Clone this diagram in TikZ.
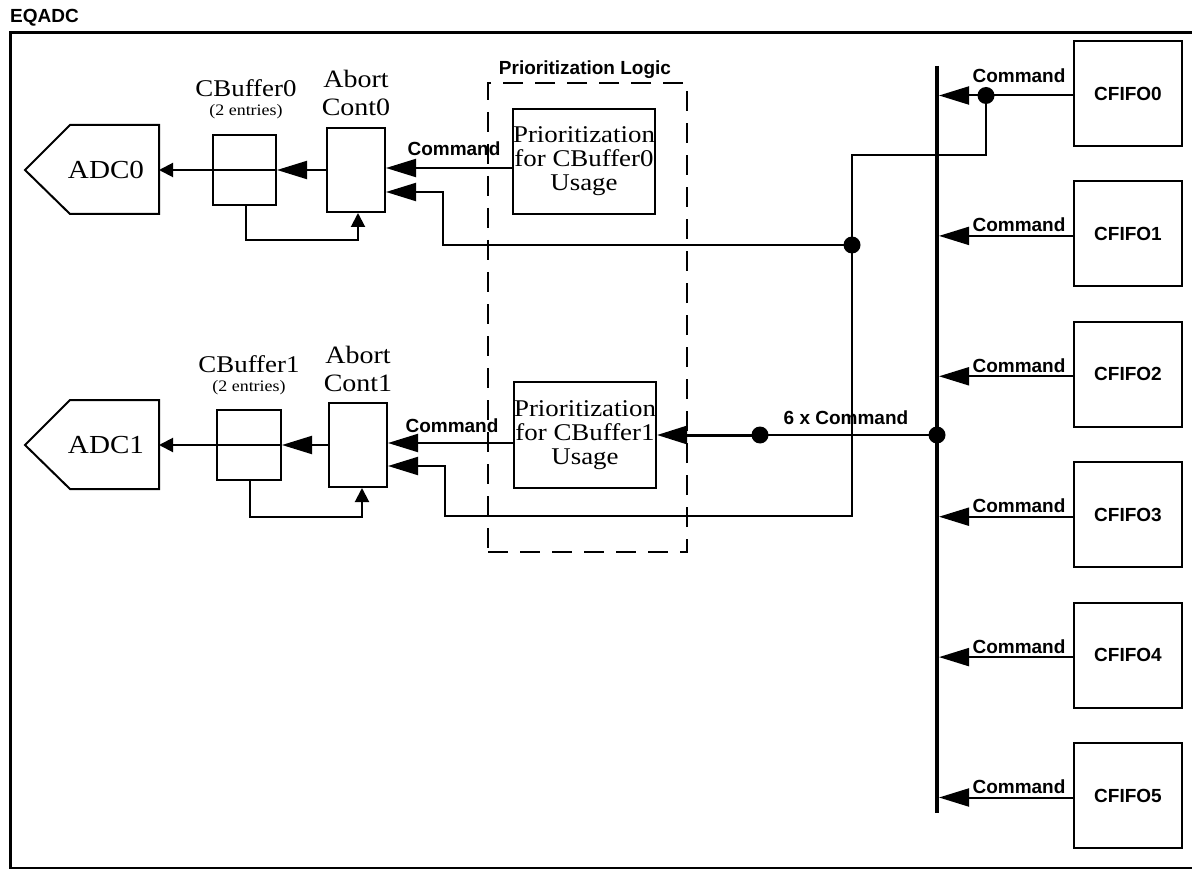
\documentclass[tikz,border=0pt]{standalone}
\usepackage{fontspec}
\setmainfont{Liberation Serif}[FakeStretch=1.12]
\newfontfamily\hv{Liberation Sans}
\usetikzlibrary{arrows.meta,calc}
\begin{document}
\begin{tikzpicture}[x=1pt,y=-1pt,
  box/.style={draw,line width=2pt,inner sep=0pt},
  ln/.style={line width=2pt},
  big/.style={-{Triangle[length=30pt,width=18pt]}},
  sml/.style={-{Triangle[length=14pt,width=14pt]}},
  lab/.style={font=\hv\bfseries\fontsize{19}{21}\selectfont,inner sep=0pt},
  ser/.style={font=\fontsize{24}{24}\selectfont,inner sep=0pt,align=center},
  big serif/.style={font=\fontsize{25}{27}\selectfont,inner sep=0pt},
  small serif/.style={font=\fontsize{16}{18}\selectfont,inner sep=0pt},
  dot/.style={circle,fill,inner sep=0pt,minimum size=17pt},
  fifo/.style={box,minimum width=108pt,minimum height=105pt,lab}
]
\useasboundingbox (0,0) rectangle (1192,869);
\fill[white] (0,0) rectangle (1192,869);

% title and frame
\node[lab,anchor=base west] (title) at (10,23) {EQADC};
\node[draw,line width=3pt,inner sep=0pt,minimum width=1190pt,minimum height=836pt,anchor=north west] (frame) at (9,31) {};

% ADC shapes
\draw[ln] (25,170) -- (70,125) -- (159,125) -- (159,214) -- (70,214) -- cycle;
\coordinate (adc0e) at (159,170);
\node[font=\fontsize{26}{28}\selectfont,inner sep=0pt] (adc0) at (106,170) {ADC0};
\draw[ln] (25,445) -- (70,400) -- (159,400) -- (159,489) -- (70,489) -- cycle;
\coordinate (adc1e) at (159,445);
\node[font=\fontsize{26}{28}\selectfont,inner sep=0pt] (adc1) at (106,445) {ADC1};

% command buffers
\node[box,minimum width=63pt,minimum height=70pt] (cb0) at (244.5,170) {};
\node[box,minimum width=64pt,minimum height=70pt] (cb1) at (249,445) {};
\node[font=\fontsize{24}{26}\selectfont,inner sep=0pt,anchor=base] (cb0t) at (246,97) {CBuffer0};
\node[small serif,anchor=base] (cb0s) at (246,116) {(2 entries)};
\node[font=\fontsize{24}{26}\selectfont,inner sep=0pt,anchor=base] (cb1t) at (249,372) {CBuffer1};
\node[small serif,anchor=base] (cb1s) at (249,391) {(2 entries)};

% abort controls
\node[box,minimum width=58pt,minimum height=84pt] (ab0) at (356,170) {};
\node[box,minimum width=58pt,minimum height=84pt] (ab1) at (358,445) {};
\node[big serif,anchor=base] (ab0a) at (356,88) {Abort};
\node[big serif,anchor=base] (ab0b) at (356,116) {Cont0};
\node[big serif,anchor=base] (ab1a) at (358,363) {Abort};
\node[big serif,anchor=base] (ab1b) at (358,391) {Cont1};

% prioritization logic
\node[draw,line width=2pt,dash pattern=on 20pt off 12pt,minimum width=199pt,minimum height=469pt,inner sep=0pt] (plog) at (587.5,317.5) {};
\node[lab,anchor=base] (plogt) at (585,75) {Prioritization Logic};
\node[box,ser,minimum width=142pt,minimum height=105pt] (pr0) at (584,161.5) {Prioritization\\for CBuffer0\\Usage};
\node[box,ser,minimum width=142pt,minimum height=106pt] (pr1) at (585,435) {Prioritization\\for CBuffer1\\Usage};

% CFIFOs
\foreach \i in {0,...,5} {
  \node[fifo] (cf\i) at (1128,93.5+140.4*\i) {CFIFO\i};
}

% bus
\coordinate (bust) at (937,66);
\coordinate (busb) at (937,813);
\draw[line width=3.5pt] (bust) -- (busb);

% junction dots
\node[dot] (j0) at (852,245) {};
\node[dot] (j1) at (986,95.5) {};
\node[dot] (j2) at (760,435) {};
\node[dot] (j3) at (937,435) {};

% CFIFO command arrows
\draw[ln,big] ($(cf0.west)+(0,2)$) -- (j1.center) -- (939,95.5);
\node[lab,anchor=base] (c0) at (1019,83) {Command};
\foreach \i in {1,...,5} {
  \draw[ln,big] ($(cf\i.west)+(0,2)$) -- ($(939,0)+(0,95.5+140.4*\i)$);
  \node[lab,anchor=base] (c\i) at (1019,91.5+140.4*\i) {Command};
}

% abort return lines
\draw[ln,big] (j1.center) -- (986,155) -- (852,155) -- (852,516) -- (445,516) -- (445,466) -- ($(ab1.east)+(0,21)$);
\draw[ln,big] (j0.center) -- (443,245) -- (443,192) -- ($(ab0.east)+(0,22)$);

% 6 x command
\draw[ln] (j3.center) -- (j2.center);
\draw[line width=3pt,big] (j2.center) -- (pr1.east);
\node[lab,anchor=base] (six) at (846,424) {6 x Command};

% commands to abort
\draw[ln,big] (pr0.west |- 0,168) -- (ab0.east |- 0,168);
\node[lab,anchor=base] (cmd0) at (454,156) {Command};
\draw[ln,big] (pr1.west |- 0,443) -- (ab1.east |- 0,443);
\node[lab,anchor=base] (cmd1) at (452,432) {Command};

% abort to buffer to ADC
\draw[ln,big] (ab0.west) -- (cb0.east);
\draw[ln] (cb0.west) -- (cb0.east);
\draw[ln,sml] (cb0.west) -- (adc0e);
\draw[ln,big] (ab1.west) -- (cb1.east);
\draw[ln] (cb1.west) -- (cb1.east);
\draw[ln,sml] (cb1.west) -- (adc1e);

% feedback
\draw[ln,sml] (cb0.south -| 246,0) -- (246,240) -- (358,240) -- (ab0.south -| 358,0);
\draw[ln,sml] (cb1.south -| 250,0) -- (250,517) -- (362,517) -- (ab1.south -| 362,0);
\end{tikzpicture}
\end{document}
